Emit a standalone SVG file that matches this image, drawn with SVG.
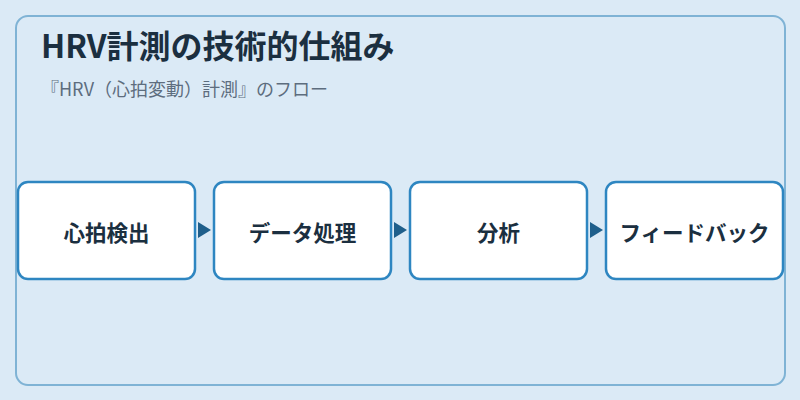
<svg xmlns="http://www.w3.org/2000/svg" width="800" height="400" viewBox="0 0 800 400">
<defs>
<style>
.frame{fill:#dbeaf6;stroke:#7fb3d5;stroke-width:2}
.node rect{fill:#ffffff;stroke:#2e86c1;stroke-width:2.5}
.node text{font-family:"Noto Sans CJK JP","Noto Sans",sans-serif;font-size:21.5px;font-weight:bold;fill:#1b2f40;text-anchor:middle;dominant-baseline:central}
.title{font-family:"Noto Sans CJK JP","Noto Sans",sans-serif;font-size:32px;font-weight:bold;fill:#1b2f40}
.sub{font-family:"Noto Sans CJK JP","Noto Sans",sans-serif;font-size:18px;fill:#5d6d7e}
.conn line{stroke:#1f5f8b;stroke-width:2}
</style>
<marker id="arr" viewBox="0 0 10 10" refX="10" refY="5" markerWidth="13" markerHeight="16" markerUnits="userSpaceOnUse" orient="auto" preserveAspectRatio="none">
<path d="M0,0 L10,5 L0,10 Z" fill="#1f5f8b"/>
</marker>
</defs>
<rect width="800" height="400" fill="#dbeaf6"/>
<rect class="frame" x="16" y="16" width="769" height="369" rx="12"/>
<text class="title" x="41" y="58">HRV計測の技術的仕組み</text>
<text class="sub" x="41" y="96">『HRV（心拍変動）計測』のフロー</text>
<g id="connectors" class="conn">
<line x1="198" y1="230" x2="211" y2="230" marker-end="url(#arr)" stroke-opacity="0"/>
<line x1="394" y1="230" x2="407" y2="230" marker-end="url(#arr)" stroke-opacity="0"/>
<line x1="590" y1="230" x2="603" y2="230" marker-end="url(#arr)" stroke-opacity="0"/>
</g>
<g id="node1" class="node"><rect x="18" y="182" width="177" height="97" rx="10"/><text x="106.5" y="231">心拍検出</text></g>
<g id="node2" class="node"><rect x="214" y="182" width="177" height="97" rx="10"/><text x="302.5" y="231">データ処理</text></g>
<g id="node3" class="node"><rect x="410" y="182" width="177" height="97" rx="10"/><text x="498.5" y="231">分析</text></g>
<g id="node4" class="node"><rect x="606" y="182" width="177" height="97" rx="10"/><text x="694.5" y="231">フィードバック</text></g>
</svg>
